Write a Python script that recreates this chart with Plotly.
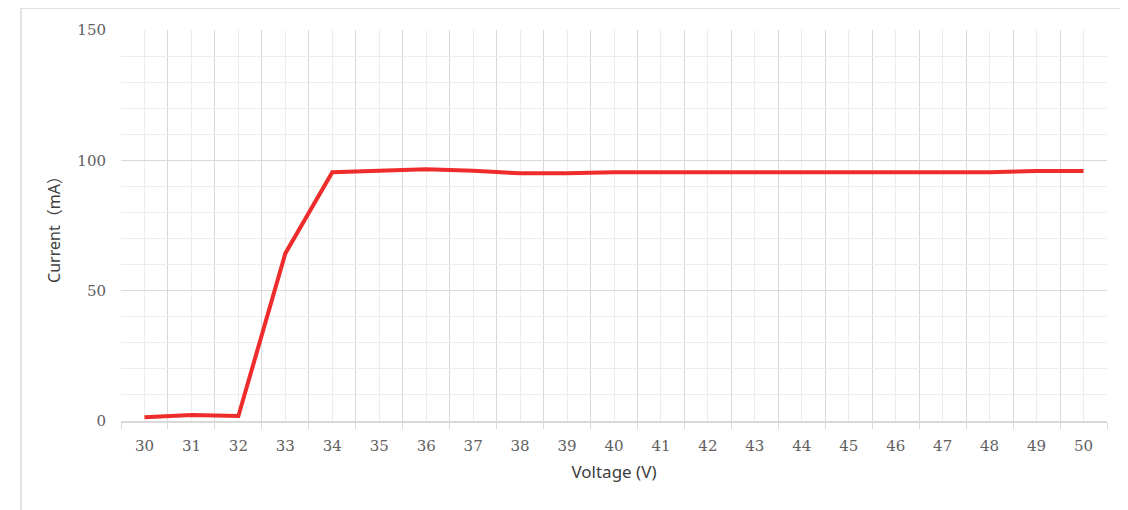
import plotly.graph_objects as go

voltage = list(range(30, 51))
current = [1.4, 2.3, 1.9, 64.3, 95.4, 95.9, 96.6, 96.0, 95.0, 95.0, 95.4,
           95.4, 95.4, 95.4, 95.4, 95.4, 95.4, 95.4, 95.4, 95.9, 95.9]
y_ticks = [0, 50, 100, 150]

tick_font = dict(family="DejaVu Serif", size=15, color="#606060")
title_font = dict(family="'Noto Sans', 'Noto Sans CJK SC', sans-serif", size=16, color="#404040")

fig = go.Figure()
fig.add_trace(go.Scatter(
    x=voltage, y=current, mode="lines",
    line=dict(color="#EE2C2C", width=4),
    hoverinfo="x+y", showlegend=False
))

# page body has an 8px margin, so shift everything up/left by 8px
fig.update_layout(
    width=1128, height=510,
    margin=dict(l=113, r=29, t=22, b=97),
    paper_bgcolor="white", plot_bgcolor="white",
    shapes=[dict(
        type="rect", xref="paper", yref="paper",
        x0=(21 - 121) / 986, x1=1.1, y0=-0.4, y1=(421 - 8) / 391,
        line=dict(color="#d9d9d9", width=1.5), layer="below"
    )]
)

fig.update_xaxes(
    range=[29.5, 50.5], tickvals=voltage, ticktext=[str(v) for v in voltage],
    tickfont=tick_font, ticks="", ticklabelstandoff=10,
    showgrid=True, gridcolor="#ededed", gridwidth=1,
    showline=True, linecolor="#d9d9d9", linewidth=1.5,
    zeroline=False,
    minor=dict(tick0=29.5, dtick=1, showgrid=True, gridcolor="#d9d9d9", gridwidth=1,
               ticks="outside", ticklen=6, tickcolor="#d9d9d9", tickwidth=1),
    title=dict(text="Voltage (V)", font=dict(title_font, size=17), standoff=12),
)

fig.update_yaxes(
    range=[0, 150], tickvals=y_ticks, tickfont=tick_font, ticks="",
    ticklabelstandoff=14,
    showgrid=True, gridcolor="#d9d9d9", gridwidth=1,
    showline=False, zeroline=False,
    minor=dict(dtick=10, showgrid=True, gridcolor="#ededed", gridwidth=1),
    title=dict(text="Current（mA）", font=title_font, standoff=12),
)

fig.write_html("out.html")
